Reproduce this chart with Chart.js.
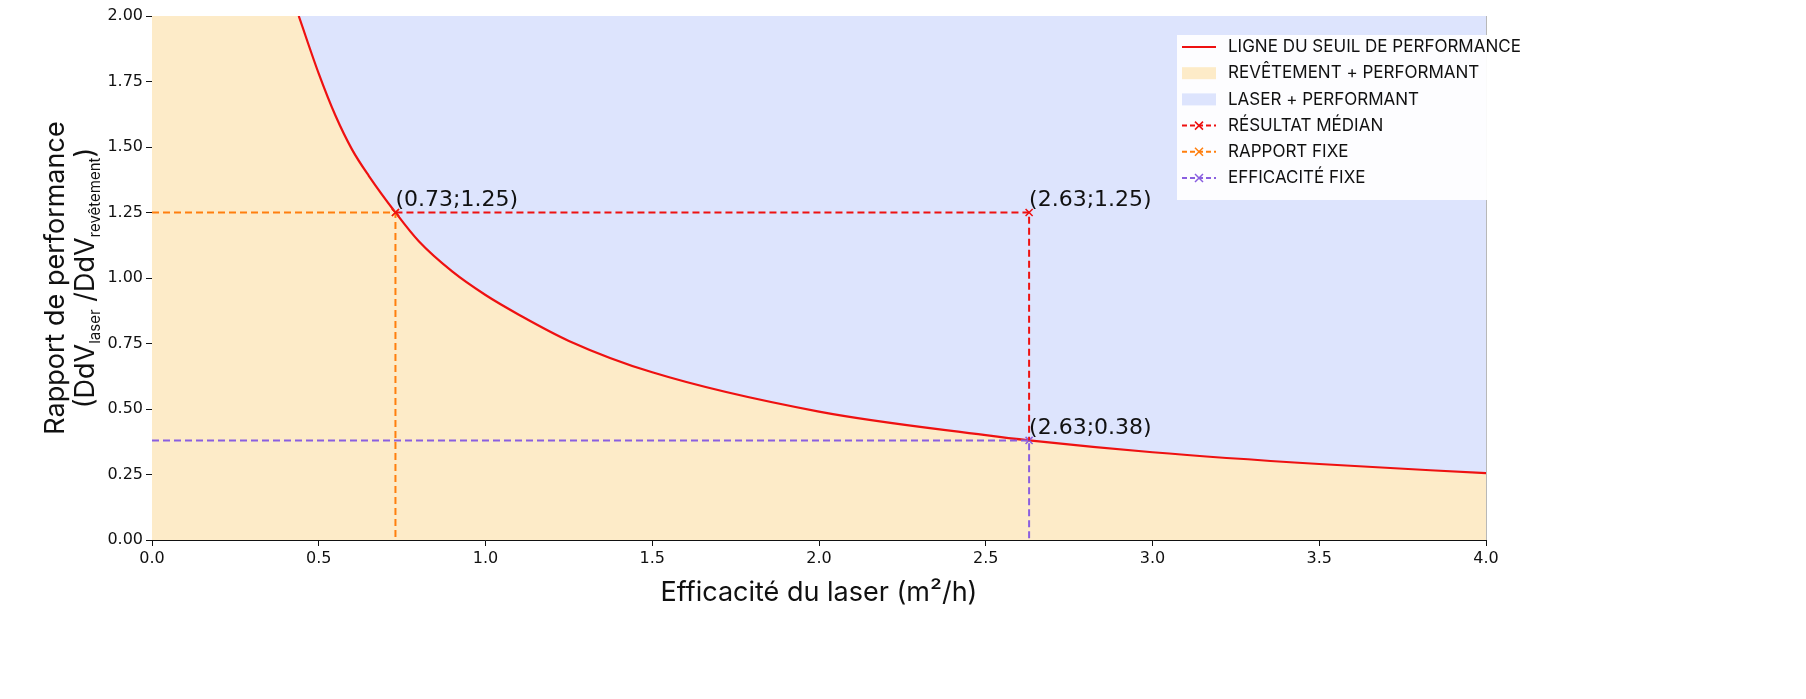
<!DOCTYPE html>
<html><head><meta charset="utf-8">
<script src="https://cdn.jsdelivr.net/npm/chart.js@4"></script>
<style>body{margin:0;background:#fff}#c{display:block}</style>
</head><body>
<canvas id="c" width="1806" height="699"></canvas>
<script>
// courbe du seuil
const seuilX = [0.44, 0.5, 0.55, 0.6, 0.65, 0.73, 0.8, 0.9, 1.0, 1.1, 1.25, 1.5, 2.0, 2.5, 2.63, 3.0, 3.5, 4.0];
const seuilY = [2.0, 1.78, 1.62, 1.49, 1.39, 1.25, 1.14, 1.025, 0.935, 0.86, 0.76, 0.64, 0.49, 0.40, 0.38, 0.335, 0.29, 0.255];
const median = [[0.73, 1.25], [2.63, 1.25], [2.63, 0.38]];
const rapportFixe = [[0, 1.25], [0.73, 1.25], [0.73, 0]];
const efficaciteFixe = [[0, 0.38], [2.63, 0.38], [2.63, 0]];
const etiquettes = [[0.73, 1.25, '(0.73;1.25)'], [2.63, 1.25, '(2.63;1.25)'], [2.63, 0.38, '(2.63;0.38)']];

const courbe = seuilX.map((x, i) => ({x: x, y: seuilY[i]}));
const orangeFill = [{x: 0, y: 2}].concat(courbe);
const pts = a => a.map(p => ({x: p[0], y: p[1]}));

const legende = [
  ['line', '#ee1111', false, 'LIGNE DU SEUIL DE PERFORMANCE'],
  ['box', '#fdebc8', false, 'REVÊTEMENT + PERFORMANT'],
  ['box', '#dde4fd', false, 'LASER + PERFORMANT'],
  ['line', '#ee1111', true, 'RÉSULTAT MÉDIAN'],
  ['line', '#ff7f0e', true, 'RAPPORT FIXE'],
  ['line', '#8a5fe0', true, 'EFFICACITÉ FIXE']
];

const dash = (data, col, radii) => ({data: pts(data), borderColor: col, borderWidth: 2, borderDash: [7, 4],
  pointStyle: 'cross', rotation: 45, pointRadius: radii, pointBorderColor: col, pointBorderWidth: 1.5, fill: false});

const extras = {
  id: 'extras',
  afterDatasetsDraw(chart) {
    const c = chart.ctx, xs = chart.scales.x, ys = chart.scales.y;
    c.save();
    c.fillStyle = '#111'; c.font = '22px "DejaVu Sans"'; c.textBaseline = 'bottom';
    etiquettes.forEach(e => c.fillText(e[2], xs.getPixelForValue(e[0]), ys.getPixelForValue(e[1]) - 1));
    // legende
    c.fillStyle = 'rgba(255,255,255,0.92)';
    c.fillRect(1177, 35, 378, 165);
    c.font = '17px Inter'; c.textBaseline = 'middle';
    legende.forEach((l, i) => {
      const y = 47 + i * 26.2;
      if (l[0] === 'box') { c.fillStyle = l[1]; c.fillRect(1182, y - 6, 34, 12); }
      else {
        c.strokeStyle = l[1]; c.lineWidth = 2; c.setLineDash(l[2] ? [5, 3] : []);
        c.beginPath(); c.moveTo(1182, y); c.lineTo(1216, y); c.stroke(); c.setLineDash([]);
        if (l[2]) { c.lineWidth = 1.5; c.beginPath(); c.moveTo(1195, y - 4); c.lineTo(1203, y + 4);
          c.moveTo(1203, y - 4); c.lineTo(1195, y + 4); c.stroke(); }
      }
      c.fillStyle = '#111'; c.fillText(l[3], 1228, y);
    });
    // titres
    c.font = '27px Inter'; c.textAlign = 'center'; c.textBaseline = 'alphabetic';
    c.fillText('Efficacité du laser (m²/h)', 819, 601);
    c.translate(64, 278); c.rotate(-Math.PI / 2);
    c.fillText('Rapport de performance', 0, 0);
    const parts = [['(DdV', 27, 0], ['laser', 15, 6], [' /DdV', 27, 0], ['revêtement', 15, 6], [')', 27, 0]];
    let w = 0;
    parts.forEach(p => { c.font = p[1] + 'px Inter'; w += c.measureText(p[0]).width; });
    let x = -w / 2; c.textAlign = 'left';
    parts.forEach(p => { c.font = p[1] + 'px Inter'; c.fillText(p[0], x, 30 + p[2]); x += c.measureText(p[0]).width; });
    c.restore();
  }
};

new Chart(document.getElementById('c'), {
  type: 'line',
  data: {
    datasets: [
      {data: orangeFill, borderWidth: 0, pointRadius: 0, fill: 'origin', backgroundColor: '#fdebc8', order: 10},
      {data: courbe, borderColor: '#ee1111', borderWidth: 2.2, pointRadius: 0, cubicInterpolationMode: 'monotone',
       fill: 'end', backgroundColor: '#dde4fd', order: 5},
      dash(median, '#ee1111', [5, 5, 0]), dash(rapportFixe, '#ff7f0e', [0, 5, 0]), dash(efficaciteFixe, '#8a5fe0', [0, 5, 0])
    ]
  },
  options: {
    responsive: false, animation: false,
    layout: {padding: {left: 0, right: 320, top: 16, bottom: 0}},
    plugins: {legend: {display: false}, tooltip: {enabled: false}},
    scales: {
      x: {type: 'linear', min: 0, max: 4, z: 1,
        ticks: {stepSize: 0.5, color: '#111', font: {size: 16, family: 'DejaVu Sans'}, callback: v => v.toFixed(1), maxRotation: 0},
        grid: {color: '#b8b8b8', tickLength: 6, tickColor: '#111'}, border: {color: '#111'},
        afterFit: s => { s.height = 159; }},
      y: {min: 0, max: 2, z: 1,
        ticks: {stepSize: 0.25, color: '#111', font: {size: 16, family: 'DejaVu Sans'}, callback: v => v.toFixed(2)},
        grid: {color: '#b8b8b8', tickLength: 6, tickColor: '#111'}, border: {color: '#111'},
        afterFit: s => { s.width = 152; }}
    }
  },
  plugins: [extras]
});
</script>
</body></html>
